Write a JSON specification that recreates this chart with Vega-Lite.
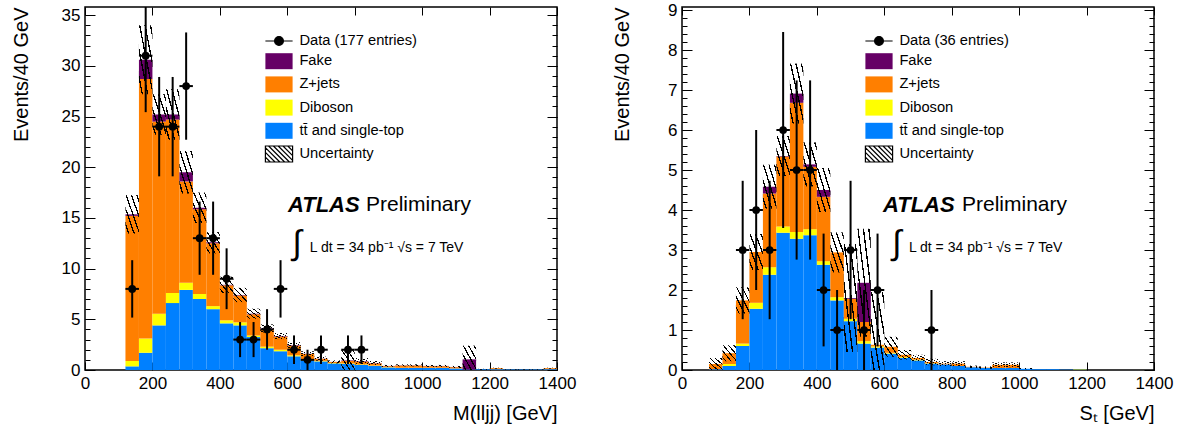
{
"$schema": "https://vega.github.io/schema/vega-lite/v6.json",
"padding": {"left": 10, "top": 0, "right": 5, "bottom": 5},
"spacing": 34,
"config": {
 "font": "Liberation Sans",
 "view": {"stroke": "black", "strokeWidth": 1.5},
 "axis": {"grid": false, "domain": false, "tickColor": "black", "tickWidth": 1, "labelColor": "black", "titleColor": "black", "labelFont": "Liberation Sans", "titleFont": "Liberation Sans", "labelFlush": false, "labelOverlap": false, "labelBound": false, "format": "d"}
},
"resolve": {"scale": {"color": "independent"}, "legend": {"color": "independent"}},
"datasets": {
 "hm": [
  {"lo":120,"hi":160,"comp":"tt\u0304 and single-top","k":1,"val":0.36},{"lo":120,"hi":160,"comp":"Diboson","k":2,"val":0.53},{"lo":120,"hi":160,"comp":"Z+jets","k":3,"val":14.31},{"lo":120,"hi":160,"comp":"Fake","k":4,"val":0.15},
  {"lo":160,"hi":200,"comp":"tt\u0304 and single-top","k":1,"val":1.7},{"lo":160,"hi":200,"comp":"Diboson","k":2,"val":1.4},{"lo":160,"hi":200,"comp":"Z+jets","k":3,"val":25.6},{"lo":160,"hi":200,"comp":"Fake","k":4,"val":1.9},
  {"lo":200,"hi":240,"comp":"tt\u0304 and single-top","k":1,"val":4.4},{"lo":200,"hi":240,"comp":"Diboson","k":2,"val":1.15},{"lo":200,"hi":240,"comp":"Z+jets","k":3,"val":18.95},{"lo":200,"hi":240,"comp":"Fake","k":4,"val":0.7},
  {"lo":240,"hi":280,"comp":"tt\u0304 and single-top","k":1,"val":6.6},{"lo":240,"hi":280,"comp":"Diboson","k":2,"val":1.0},{"lo":240,"hi":280,"comp":"Z+jets","k":3,"val":17.1},{"lo":240,"hi":280,"comp":"Fake","k":4,"val":0.5},
  {"lo":280,"hi":320,"comp":"tt\u0304 and single-top","k":1,"val":7.9},{"lo":280,"hi":320,"comp":"Diboson","k":2,"val":0.7},{"lo":280,"hi":320,"comp":"Z+jets","k":3,"val":10.0},{"lo":280,"hi":320,"comp":"Fake","k":4,"val":0.9},
  {"lo":320,"hi":360,"comp":"tt\u0304 and single-top","k":1,"val":7.0},{"lo":320,"hi":360,"comp":"Diboson","k":2,"val":0.5},{"lo":320,"hi":360,"comp":"Z+jets","k":3,"val":8.35},{"lo":320,"hi":360,"comp":"Fake","k":4,"val":0.15},
  {"lo":360,"hi":400,"comp":"tt\u0304 and single-top","k":1,"val":6.0},{"lo":360,"hi":400,"comp":"Diboson","k":2,"val":0.3},{"lo":360,"hi":400,"comp":"Z+jets","k":3,"val":6.2},{"lo":360,"hi":400,"comp":"Fake","k":4,"val":0.1},
  {"lo":400,"hi":440,"comp":"tt\u0304 and single-top","k":1,"val":4.6},{"lo":400,"hi":440,"comp":"Diboson","k":2,"val":0.3},{"lo":400,"hi":440,"comp":"Z+jets","k":3,"val":3.45},{"lo":400,"hi":440,"comp":"Fake","k":4,"val":0.05},
  {"lo":440,"hi":480,"comp":"tt\u0304 and single-top","k":1,"val":4.4},{"lo":440,"hi":480,"comp":"Diboson","k":2,"val":0.3},{"lo":440,"hi":480,"comp":"Z+jets","k":3,"val":2.65},{"lo":440,"hi":480,"comp":"Fake","k":4,"val":0.05},
  {"lo":480,"hi":520,"comp":"tt\u0304 and single-top","k":1,"val":3.25},{"lo":480,"hi":520,"comp":"Diboson","k":2,"val":0.15},{"lo":480,"hi":520,"comp":"Z+jets","k":3,"val":2.1},{"lo":480,"hi":520,"comp":"Fake","k":4,"val":0.05},
  {"lo":520,"hi":560,"comp":"tt\u0304 and single-top","k":1,"val":2.15},{"lo":520,"hi":560,"comp":"Diboson","k":2,"val":0.15},{"lo":520,"hi":560,"comp":"Z+jets","k":3,"val":1.75},{"lo":520,"hi":560,"comp":"Fake","k":4,"val":0.05},
  {"lo":560,"hi":600,"comp":"tt\u0304 and single-top","k":1,"val":1.85},{"lo":560,"hi":600,"comp":"Diboson","k":2,"val":0.15},{"lo":560,"hi":600,"comp":"Z+jets","k":3,"val":1.3},{"lo":560,"hi":600,"comp":"Fake","k":4,"val":0.05},
  {"lo":600,"hi":640,"comp":"tt\u0304 and single-top","k":1,"val":1.35},{"lo":600,"hi":640,"comp":"Diboson","k":2,"val":0.1},{"lo":600,"hi":640,"comp":"Z+jets","k":3,"val":0.95},{"lo":600,"hi":640,"comp":"Fake","k":4,"val":0.05},
  {"lo":640,"hi":680,"comp":"tt\u0304 and single-top","k":1,"val":0.95},{"lo":640,"hi":680,"comp":"Diboson","k":2,"val":0.08},{"lo":640,"hi":680,"comp":"Z+jets","k":3,"val":0.55},{"lo":640,"hi":680,"comp":"Fake","k":4,"val":0.02},
  {"lo":680,"hi":720,"comp":"tt\u0304 and single-top","k":1,"val":0.85},{"lo":680,"hi":720,"comp":"Diboson","k":2,"val":0.05},{"lo":680,"hi":720,"comp":"Z+jets","k":3,"val":0.2},{"lo":680,"hi":720,"comp":"Fake","k":4,"val":0.02},
  {"lo":720,"hi":760,"comp":"tt\u0304 and single-top","k":1,"val":0.65},{"lo":720,"hi":760,"comp":"Diboson","k":2,"val":0.04},{"lo":720,"hi":760,"comp":"Z+jets","k":3,"val":0.1},{"lo":720,"hi":760,"comp":"Fake","k":4,"val":0.01},
  {"lo":760,"hi":800,"comp":"tt\u0304 and single-top","k":1,"val":0.6},{"lo":760,"hi":800,"comp":"Diboson","k":2,"val":0.05},{"lo":760,"hi":800,"comp":"Z+jets","k":3,"val":0.25},{"lo":760,"hi":800,"comp":"Fake","k":4,"val":0.05},
  {"lo":800,"hi":840,"comp":"tt\u0304 and single-top","k":1,"val":0.5},{"lo":800,"hi":840,"comp":"Diboson","k":2,"val":0.05},{"lo":800,"hi":840,"comp":"Z+jets","k":3,"val":0.28},{"lo":800,"hi":840,"comp":"Fake","k":4,"val":0.05},
  {"lo":840,"hi":880,"comp":"tt\u0304 and single-top","k":1,"val":0.4},{"lo":840,"hi":880,"comp":"Diboson","k":2,"val":0.04},{"lo":840,"hi":880,"comp":"Z+jets","k":3,"val":0.22},{"lo":840,"hi":880,"comp":"Fake","k":4,"val":0.03},
  {"lo":880,"hi":920,"comp":"tt\u0304 and single-top","k":1,"val":0.25},{"lo":880,"hi":920,"comp":"Diboson","k":2,"val":0.03},{"lo":880,"hi":920,"comp":"Z+jets","k":3,"val":0.1},{"lo":880,"hi":920,"comp":"Fake","k":4,"val":0.02},
  {"lo":920,"hi":960,"comp":"tt\u0304 and single-top","k":1,"val":0.2},{"lo":920,"hi":960,"comp":"Diboson","k":2,"val":0.02},{"lo":920,"hi":960,"comp":"Z+jets","k":3,"val":0.22},{"lo":920,"hi":960,"comp":"Fake","k":4,"val":0.02},
  {"lo":960,"hi":1000,"comp":"tt\u0304 and single-top","k":1,"val":0.2},{"lo":960,"hi":1000,"comp":"Diboson","k":2,"val":0.02},{"lo":960,"hi":1000,"comp":"Z+jets","k":3,"val":0.22},{"lo":960,"hi":1000,"comp":"Fake","k":4,"val":0.02},
  {"lo":1000,"hi":1040,"comp":"tt\u0304 and single-top","k":1,"val":0.2},{"lo":1000,"hi":1040,"comp":"Diboson","k":2,"val":0.02},{"lo":1000,"hi":1040,"comp":"Z+jets","k":3,"val":0.16},{"lo":1000,"hi":1040,"comp":"Fake","k":4,"val":0.02},
  {"lo":1040,"hi":1080,"comp":"tt\u0304 and single-top","k":1,"val":0.2},{"lo":1040,"hi":1080,"comp":"Diboson","k":2,"val":0.02},{"lo":1040,"hi":1080,"comp":"Z+jets","k":3,"val":0.16},{"lo":1040,"hi":1080,"comp":"Fake","k":4,"val":0.02},
  {"lo":1080,"hi":1120,"comp":"tt\u0304 and single-top","k":1,"val":0.15},{"lo":1080,"hi":1120,"comp":"Diboson","k":2,"val":0.01},{"lo":1080,"hi":1120,"comp":"Z+jets","k":3,"val":0.12},{"lo":1080,"hi":1120,"comp":"Fake","k":4,"val":0.02},
  {"lo":1120,"hi":1160,"comp":"tt\u0304 and single-top","k":1,"val":0.05},{"lo":1120,"hi":1160,"comp":"Fake","k":4,"val":1.0},
  {"lo":1160,"hi":1200,"comp":"tt\u0304 and single-top","k":1,"val":0.07},
  {"lo":1200,"hi":1240,"comp":"tt\u0304 and single-top","k":1,"val":0.08},{"lo":1200,"hi":1240,"comp":"Z+jets","k":3,"val":0.1},
  {"lo":1240,"hi":1280,"comp":"tt\u0304 and single-top","k":1,"val":0.05},
  {"lo":1280,"hi":1320,"comp":"tt\u0304 and single-top","k":1,"val":0.05},
  {"lo":1320,"hi":1360,"comp":"tt\u0304 and single-top","k":1,"val":0.05},
  {"lo":1360,"hi":1400,"comp":"tt\u0304 and single-top","k":1,"val":0.08},{"lo":1360,"hi":1400,"comp":"Z+jets","k":3,"val":0.1}
 ],
 "um": [
  {"lo":120,"hi":160,"dn":13.45,"up":17.25},{"lo":160,"hi":200,"dn":27.2,"up":34.0},{"lo":200,"hi":240,"dn":23.2,"up":27.2},{"lo":240,"hi":280,"dn":22.7,"up":27.7},
  {"lo":280,"hi":320,"dn":17.4,"up":21.6},{"lo":320,"hi":360,"dn":14.5,"up":17.5},{"lo":360,"hi":400,"dn":11.5,"up":13.6},{"lo":400,"hi":440,"dn":7.6,"up":9.2},
  {"lo":440,"hi":480,"dn":6.7,"up":8.1},{"lo":480,"hi":520,"dn":5.05,"up":6.05},{"lo":520,"hi":560,"dn":3.7,"up":4.5},{"lo":560,"hi":600,"dn":3.05,"up":3.65},
  {"lo":600,"hi":640,"dn":2.15,"up":2.75},{"lo":640,"hi":680,"dn":1.35,"up":1.85},{"lo":680,"hi":720,"dn":0.92,"up":1.32},{"lo":720,"hi":760,"dn":0.65,"up":0.95},
  {"lo":760,"hi":800,"dn":0,"up":1.95},{"lo":800,"hi":840,"dn":0.58,"up":1.18},{"lo":840,"hi":880,"dn":0.49,"up":0.89},{"lo":880,"hi":920,"dn":0.3,"up":0.5},
  {"lo":920,"hi":960,"dn":0.36,"up":0.56},{"lo":960,"hi":1000,"dn":0.36,"up":0.56},{"lo":1000,"hi":1040,"dn":0.3,"up":0.5},{"lo":1040,"hi":1080,"dn":0.3,"up":0.5},
  {"lo":1080,"hi":1120,"dn":0.2,"up":0.4},{"lo":1120,"hi":1160,"dn":0,"up":2.4},{"lo":1160,"hi":1200,"dn":0.02,"up":0.12},{"lo":1200,"hi":1240,"dn":0.13,"up":0.23},
  {"lo":1240,"hi":1280,"dn":0.02,"up":0.08},{"lo":1280,"hi":1320,"dn":0.02,"up":0.08},{"lo":1320,"hi":1360,"dn":0.02,"up":0.08},{"lo":1360,"hi":1400,"dn":0.13,"up":0.23}
 ],
 "dm": [
  {"c":140,"b0":120,"b1":160,"n":8,"lo":5.17,"hi":10.83},{"c":180,"b0":160,"b1":200,"n":31,"lo":25.43,"hi":36.57},{"c":220,"b0":200,"b1":240,"n":24,"lo":19.1,"hi":28.9},
  {"c":260,"b0":240,"b1":280,"n":24,"lo":19.1,"hi":28.9},{"c":300,"b0":280,"b1":320,"n":28,"lo":22.71,"hi":33.29},{"c":340,"b0":320,"b1":360,"n":13,"lo":9.39,"hi":16.61},
  {"c":380,"b0":360,"b1":400,"n":13,"lo":9.39,"hi":16.61},{"c":420,"b0":400,"b1":440,"n":9,"lo":6,"hi":12},{"c":460,"b0":440,"b1":480,"n":3,"lo":1.27,"hi":4.73},
  {"c":500,"b0":480,"b1":520,"n":3,"lo":1.27,"hi":4.73},{"c":540,"b0":520,"b1":560,"n":4,"lo":2,"hi":6},{"c":580,"b0":560,"b1":600,"n":8,"lo":5.17,"hi":10.83},
  {"c":620,"b0":600,"b1":640,"n":2,"lo":0.59,"hi":3.41},{"c":660,"b0":640,"b1":680,"n":1,"lo":0,"hi":2},{"c":700,"b0":680,"b1":720,"n":2,"lo":0.59,"hi":3.41},
  {"c":780,"b0":760,"b1":800,"n":2,"lo":0.59,"hi":3.41},{"c":820,"b0":800,"b1":840,"n":2,"lo":0.59,"hi":3.41}
 ],
 "hs": [
  {"lo":80,"hi":120,"comp":"tt\u0304 and single-top","k":1,"val":0.02},{"lo":80,"hi":120,"comp":"Z+jets","k":3,"val":0.13},
  {"lo":120,"hi":160,"comp":"tt\u0304 and single-top","k":1,"val":0.1},{"lo":120,"hi":160,"comp":"Diboson","k":2,"val":0.05},{"lo":120,"hi":160,"comp":"Z+jets","k":3,"val":0.27},
  {"lo":160,"hi":200,"comp":"tt\u0304 and single-top","k":1,"val":0.6},{"lo":160,"hi":200,"comp":"Diboson","k":2,"val":0.06},{"lo":160,"hi":200,"comp":"Z+jets","k":3,"val":1.08},
  {"lo":200,"hi":240,"comp":"tt\u0304 and single-top","k":1,"val":1.53},{"lo":200,"hi":240,"comp":"Diboson","k":2,"val":0.15},{"lo":200,"hi":240,"comp":"Z+jets","k":3,"val":1.27},
  {"lo":240,"hi":280,"comp":"tt\u0304 and single-top","k":1,"val":2.38},{"lo":240,"hi":280,"comp":"Diboson","k":2,"val":0.19},{"lo":240,"hi":280,"comp":"Z+jets","k":3,"val":1.84},{"lo":240,"hi":280,"comp":"Fake","k":4,"val":0.17},
  {"lo":280,"hi":320,"comp":"tt\u0304 and single-top","k":1,"val":3.43},{"lo":280,"hi":320,"comp":"Diboson","k":2,"val":0.16},{"lo":280,"hi":320,"comp":"Z+jets","k":3,"val":1.75},{"lo":280,"hi":320,"comp":"Fake","k":4,"val":0.01},
  {"lo":320,"hi":360,"comp":"tt\u0304 and single-top","k":1,"val":3.28},{"lo":320,"hi":360,"comp":"Diboson","k":2,"val":0.17},{"lo":320,"hi":360,"comp":"Z+jets","k":3,"val":3.23},{"lo":320,"hi":360,"comp":"Fake","k":4,"val":0.23},
  {"lo":360,"hi":400,"comp":"tt\u0304 and single-top","k":1,"val":3.37},{"lo":360,"hi":400,"comp":"Diboson","k":2,"val":0.15},{"lo":360,"hi":400,"comp":"Z+jets","k":3,"val":1.56},{"lo":360,"hi":400,"comp":"Fake","k":4,"val":0.06},
  {"lo":400,"hi":440,"comp":"tt\u0304 and single-top","k":1,"val":2.63},{"lo":400,"hi":440,"comp":"Diboson","k":2,"val":0.09},{"lo":400,"hi":440,"comp":"Z+jets","k":3,"val":1.61},{"lo":400,"hi":440,"comp":"Fake","k":4,"val":0.17},
  {"lo":440,"hi":480,"comp":"tt\u0304 and single-top","k":1,"val":1.74},{"lo":440,"hi":480,"comp":"Diboson","k":2,"val":0.08},{"lo":440,"hi":480,"comp":"Z+jets","k":3,"val":1.12},
  {"lo":480,"hi":520,"comp":"tt\u0304 and single-top","k":1,"val":1.22},{"lo":480,"hi":520,"comp":"Diboson","k":2,"val":0.06},{"lo":480,"hi":520,"comp":"Z+jets","k":3,"val":0.5},{"lo":480,"hi":520,"comp":"Fake","k":4,"val":0.02},
  {"lo":520,"hi":560,"comp":"tt\u0304 and single-top","k":1,"val":0.66},{"lo":520,"hi":560,"comp":"Diboson","k":2,"val":0.06},{"lo":520,"hi":560,"comp":"Z+jets","k":3,"val":0.48},{"lo":520,"hi":560,"comp":"Fake","k":4,"val":0.98},
  {"lo":560,"hi":600,"comp":"tt\u0304 and single-top","k":1,"val":0.56},{"lo":560,"hi":600,"comp":"Diboson","k":2,"val":0.03},{"lo":560,"hi":600,"comp":"Z+jets","k":3,"val":0.04},
  {"lo":600,"hi":640,"comp":"tt\u0304 and single-top","k":1,"val":0.41},{"lo":600,"hi":640,"comp":"Diboson","k":2,"val":0.02},{"lo":600,"hi":640,"comp":"Z+jets","k":3,"val":0.15},
  {"lo":640,"hi":680,"comp":"tt\u0304 and single-top","k":1,"val":0.3},{"lo":640,"hi":680,"comp":"Diboson","k":2,"val":0.02},{"lo":640,"hi":680,"comp":"Z+jets","k":3,"val":0.06},
  {"lo":680,"hi":720,"comp":"tt\u0304 and single-top","k":1,"val":0.24},{"lo":680,"hi":720,"comp":"Diboson","k":2,"val":0.02},{"lo":680,"hi":720,"comp":"Z+jets","k":3,"val":0.04},
  {"lo":720,"hi":760,"comp":"tt\u0304 and single-top","k":1,"val":0.16},{"lo":720,"hi":760,"comp":"Diboson","k":2,"val":0.01},{"lo":720,"hi":760,"comp":"Z+jets","k":3,"val":0.03},
  {"lo":760,"hi":800,"comp":"tt\u0304 and single-top","k":1,"val":0.14},{"lo":760,"hi":800,"comp":"Z+jets","k":3,"val":0.02},
  {"lo":800,"hi":840,"comp":"tt\u0304 and single-top","k":1,"val":0.1},{"lo":800,"hi":840,"comp":"Z+jets","k":3,"val":0.06},
  {"lo":840,"hi":880,"comp":"tt\u0304 and single-top","k":1,"val":0.07},{"lo":840,"hi":880,"comp":"Z+jets","k":3,"val":0.01},
  {"lo":880,"hi":920,"comp":"tt\u0304 and single-top","k":1,"val":0.05},{"lo":880,"hi":920,"comp":"Z+jets","k":3,"val":0.01},
  {"lo":920,"hi":960,"comp":"tt\u0304 and single-top","k":1,"val":0.05},{"lo":920,"hi":960,"comp":"Z+jets","k":3,"val":0.08},
  {"lo":960,"hi":1000,"comp":"tt\u0304 and single-top","k":1,"val":0.05},{"lo":960,"hi":1000,"comp":"Z+jets","k":3,"val":0.08},
  {"lo":1000,"hi":1040,"comp":"tt\u0304 and single-top","k":1,"val":0.03},
  {"lo":1040,"hi":1080,"comp":"tt\u0304 and single-top","k":1,"val":0.02},
  {"lo":1080,"hi":1120,"comp":"tt\u0304 and single-top","k":1,"val":0.02},
  {"lo":1120,"hi":1160,"comp":"tt\u0304 and single-top","k":1,"val":0.01},
  {"lo":1160,"hi":1200,"comp":"tt\u0304 and single-top","k":1,"val":0.01},{"lo":1160,"hi":1200,"comp":"Diboson","k":2,"val":0.01}
 ],
 "us": [
  {"lo":80,"hi":120,"dn":0,"up":0.3},{"lo":120,"hi":160,"dn":0.22,"up":0.62},{"lo":160,"hi":200,"dn":1.41,"up":2.07},{"lo":200,"hi":240,"dn":2.5,"up":3.4},
  {"lo":240,"hi":280,"dn":4.03,"up":5.13},{"lo":280,"hi":320,"dn":4.85,"up":5.85},{"lo":320,"hi":360,"dn":6.16,"up":7.66},{"lo":360,"hi":400,"dn":4.59,"up":5.69},
  {"lo":400,"hi":440,"dn":3.95,"up":5.05},{"lo":440,"hi":480,"dn":2.44,"up":3.44},{"lo":480,"hi":520,"dn":0.45,"up":3.15},{"lo":520,"hi":560,"dn":0.83,"up":3.53},
  {"lo":560,"hi":600,"dn":0,"up":1.95},{"lo":600,"hi":640,"dn":0.33,"up":0.83},{"lo":640,"hi":680,"dn":0.26,"up":0.5},{"lo":680,"hi":720,"dn":0.22,"up":0.38},
  {"lo":720,"hi":760,"dn":0.12,"up":0.28},{"lo":760,"hi":800,"dn":0.1,"up":0.22},{"lo":800,"hi":840,"dn":0.1,"up":0.22},{"lo":840,"hi":880,"dn":0.05,"up":0.11},
  {"lo":880,"hi":920,"dn":0.03,"up":0.09},{"lo":920,"hi":960,"dn":0.07,"up":0.19},{"lo":960,"hi":1000,"dn":0.07,"up":0.19},{"lo":1000,"hi":1040,"dn":0.02,"up":0.05}
 ],
 "ds": [
  {"c":180,"b0":160,"b1":200,"n":3,"lo":1.27,"hi":4.73},{"c":220,"b0":200,"b1":240,"n":4,"lo":2,"hi":6},{"c":260,"b0":240,"b1":280,"n":3,"lo":1.27,"hi":4.73},
  {"c":300,"b0":280,"b1":320,"n":6,"lo":3.55,"hi":8.45},{"c":340,"b0":320,"b1":360,"n":5,"lo":2.76,"hi":7.24},{"c":380,"b0":360,"b1":400,"n":5,"lo":2.76,"hi":7.24},
  {"c":420,"b0":400,"b1":440,"n":2,"lo":0.59,"hi":3.41},{"c":460,"b0":440,"b1":480,"n":1,"lo":0,"hi":2},{"c":500,"b0":480,"b1":520,"n":3,"lo":1.27,"hi":4.73},
  {"c":540,"b0":520,"b1":560,"n":1,"lo":0,"hi":2},{"c":580,"b0":560,"b1":600,"n":2,"lo":0.59,"hi":3.41},{"c":740,"b0":720,"b1":760,"n":1,"lo":0,"hi":2}
 ]
},
"hconcat": [
 {
  "width": 472, "height": 363,
  "resolve": {"axis": {"x": "independent", "y": "independent"}},
  "layer": [
   {"data": {"name": "hm"},
    "transform": [{"stack": "val", "groupby": ["lo"], "sort": [{"field": "k", "order": "ascending"}], "as": ["y0", "y1"]}],
    "mark": {"type": "rect", "opacity": 1},
    "encoding": {
     "x": {"field": "lo", "type": "quantitative", "scale": {"domain": [0, 1400], "nice": false, "zero": false},
       "axis": {"orient": "bottom", "values": [0,200,400,600,800,1000,1200,1400], "tickSize": -8, "labelPadding": 13, "labelFontSize": 17, "title": "M(lljj) [GeV]", "titleAnchor": "end", "titleFontSize": 20, "titleFontWeight": "normal", "titlePadding": 12}},
     "x2": {"field": "hi"},
     "y": {"field": "y0", "type": "quantitative", "scale": {"domain": [0, 35.8], "nice": false},
       "axis": {"orient": "left", "values": [0,5,10,15,20,25,30,35], "tickSize": -10, "labelPadding": 15, "labelFontSize": 17, "title": "Events/40 GeV", "titleAnchor": "end", "titleFontSize": 20, "titleFontWeight": "normal", "titlePadding": 30}},
     "y2": {"field": "y1"},
     "color": {"field": "comp", "type": "nominal",
       "scale": {"domain": ["Data (177 entries)", "Fake", "Z+jets", "Diboson", "tt\u0304 and single-top", "Uncertainty"],
         "range": ["#000000", "#660066", "#ff7f00", "#ffff00", "#0080ff", "#ffffff"]},
       "legend": {"orient": "none", "legendX": 185, "legendY": 25, "title": null, "padding": 0,
         "symbolType": "M-1.7,-1H1.7V1H-1.7Z", "symbolSize": 256, "symbolStrokeWidth": 1.2, "symbolOpacity": 1,
         "labelFontSize": 14.7, "labelFont": "Liberation Sans", "labelColor": "black", "labelOffset": 11.4, "labelLimit": 300, "rowPadding": 1.2,
         "encode": {"symbols": {"update": {
           "shape": [
             {"test": "datum.value === 'Data (177 entries)'", "value": "M-1.7,0H1.7M0,-0.6V0.6M0.55,0A0.55,0.55,0,1,1,-0.55,0A0.55,0.55,0,1,1,0.55,0Z"},
             {"test": "datum.value === 'Uncertainty'", "value": "M-1.7,-1H1.7V1H-1.7Z M-1.7,0.4L-1.1,1 M-1.7,-0.2L-0.5,1 M-1.7,-0.8L0.1,1 M-1.3,-1L0.7,1 M-0.7,-1L1.3,1 M-0.1,-1L1.7,0.8 M0.5,-1L1.7,0.2 M1.1,-1L1.7,-0.4"},
             {"value": "M-1.7,-1H1.7V1H-1.7Z"}],
           "stroke": [{"test": "datum.value === 'Data (177 entries)' || datum.value === 'Uncertainty'", "value": "#000000"}, {"value": "transparent"}]}}}}}
    }},
   {"data": {"name": "um"}, "mark": {"type": "rect", "opacity": 1, "strokeWidth": 0,
      "fill": {"gradient": "linear", "x1": 0, "y1": 1, "x2": 1, "y2": 0, "stops": [
        {"offset": 0, "color": "rgba(0,0,0,0)"},
        {"offset": 0.1, "color": "rgba(0,0,0,0)"}, {"offset": 0.1, "color": "#000000"}, {"offset": 0.15, "color": "#000000"}, {"offset": 0.15, "color": "rgba(0,0,0,0)"},
        {"offset": 0.3, "color": "rgba(0,0,0,0)"}, {"offset": 0.3, "color": "#000000"}, {"offset": 0.35, "color": "#000000"}, {"offset": 0.35, "color": "rgba(0,0,0,0)"},
        {"offset": 0.5, "color": "rgba(0,0,0,0)"}, {"offset": 0.5, "color": "#000000"}, {"offset": 0.55, "color": "#000000"}, {"offset": 0.55, "color": "rgba(0,0,0,0)"},
        {"offset": 0.7, "color": "rgba(0,0,0,0)"}, {"offset": 0.7, "color": "#000000"}, {"offset": 0.75, "color": "#000000"}, {"offset": 0.75, "color": "rgba(0,0,0,0)"},
        {"offset": 0.9, "color": "rgba(0,0,0,0)"}, {"offset": 0.9, "color": "#000000"}, {"offset": 0.95, "color": "#000000"}, {"offset": 0.95, "color": "rgba(0,0,0,0)"},
        {"offset": 1, "color": "rgba(0,0,0,0)"}]}},
    "encoding": {
     "x": {"field": "lo", "type": "quantitative", "axis": {"orient": "top", "values": [0,200,400,600,800,1000,1200,1400], "tickSize": -8, "labels": false, "title": null}},
     "x2": {"field": "hi"},
     "y": {"field": "dn", "type": "quantitative", "axis": {"orient": "right", "values": [0,5,10,15,20,25,30,35], "tickSize": -10, "labels": false, "title": null}},
     "y2": {"field": "up"}
    }},
   {"data": {"name": "dm"}, "mark": {"type": "rule", "strokeWidth": 2, "clip": true, "color": "#000000"},
    "encoding": {
     "x": {"field": "c", "type": "quantitative", "axis": null},
     "y": {"field": "lo", "type": "quantitative", "axis": {"orient": "left", "values": [0,1,2,3,4,5,6,7,8,9,10,11,12,13,14,15,16,17,18,19,20,21,22,23,24,25,26,27,28,29,30,31,32,33,34,35], "tickSize": -5, "labels": false, "title": null}},
     "y2": {"field": "hi"}
    }},
   {"data": {"name": "dm"}, "mark": {"type": "rule", "strokeWidth": 2, "color": "#000000"},
    "encoding": {
     "x": {"field": "b0", "type": "quantitative", "axis": null},
     "x2": {"field": "b1"},
     "y": {"field": "n", "type": "quantitative", "axis": {"orient": "right", "values": [0,1,2,3,4,5,6,7,8,9,10,11,12,13,14,15,16,17,18,19,20,21,22,23,24,25,26,27,28,29,30,31,32,33,34,35], "tickSize": -5, "labels": false, "title": null}}
    }},
   {"data": {"name": "dm"}, "mark": {"type": "circle", "size": 60, "opacity": 1},
    "encoding": {
     "x": {"field": "c", "type": "quantitative", "axis": null},
     "y": {"field": "n", "type": "quantitative", "axis": null},
     "color": {"datum": "Data (177 entries)"}
    }},
   {"data": {"values": [{"t": "ATLAS"}]}, "mark": {"type": "text", "align": "left", "baseline": "middle", "fontSize": 22, "fontWeight": "bold", "fontStyle": "italic", "fill": "black"},
    "encoding": {"x": {"datum": 602, "type": "quantitative", "axis": null}, "y": {"datum": 16.27, "type": "quantitative", "axis": null}, "text": {"field": "t"}}},
   {"data": {"values": [{"t": "Preliminary"}]}, "mark": {"type": "text", "align": "left", "baseline": "middle", "fontSize": 21, "fill": "black"},
    "encoding": {"x": {"datum": 833.5, "type": "quantitative", "axis": null}, "y": {"datum": 16.27, "type": "quantitative", "axis": null}, "text": {"field": "t"}}},
   {"data": {"values": [{"t": "\u222b"}]}, "mark": {"type": "text", "align": "center", "baseline": "middle", "fontSize": 34, "fill": "black"},
    "encoding": {"x": {"datum": 629, "type": "quantitative", "axis": null}, "y": {"datum": 12.43, "type": "quantitative", "axis": null}, "text": {"field": "t"}}},
   {"data": {"values": [{"t": "L dt = 34 pb\u207b\u00b9  \u221as = 7 TeV"}]}, "mark": {"type": "text", "align": "left", "baseline": "middle", "fontSize": 14, "fill": "black"},
    "encoding": {"x": {"datum": 667, "type": "quantitative", "axis": null}, "y": {"datum": 12.03, "type": "quantitative", "axis": null}, "text": {"field": "t"}}}
  ]
 },
 {
  "width": 472, "height": 363,
  "resolve": {"axis": {"x": "independent", "y": "independent"}},
  "layer": [
   {"data": {"name": "hs"},
    "transform": [{"stack": "val", "groupby": ["lo"], "sort": [{"field": "k", "order": "ascending"}], "as": ["y0", "y1"]}],
    "mark": {"type": "rect", "opacity": 1},
    "encoding": {
     "x": {"field": "lo", "type": "quantitative", "scale": {"domain": [0, 1400], "nice": false, "zero": false},
       "axis": {"orient": "bottom", "values": [0,200,400,600,800,1000,1200,1400], "tickSize": -8, "labelPadding": 13, "labelFontSize": 17, "title": "S\u209c [GeV]", "titleAnchor": "end", "titleFontSize": 20, "titleFontWeight": "normal", "titlePadding": 12}},
     "x2": {"field": "hi"},
     "y": {"field": "y0", "type": "quantitative", "scale": {"domain": [0, 9.075], "nice": false},
       "axis": {"orient": "left", "values": [0,1,2,3,4,5,6,7,8,9], "tickSize": -10, "labelPadding": 15, "labelFontSize": 17, "title": "Events/40 GeV", "titleAnchor": "end", "titleFontSize": 20, "titleFontWeight": "normal", "titlePadding": 35}},
     "y2": {"field": "y1"},
     "color": {"field": "comp", "type": "nominal",
       "scale": {"domain": ["Data (36 entries)", "Fake", "Z+jets", "Diboson", "tt\u0304 and single-top", "Uncertainty"],
         "range": ["#000000", "#660066", "#ff7f00", "#ffff00", "#0080ff", "#ffffff"]},
       "legend": {"orient": "none", "legendX": 188, "legendY": 25, "title": null, "padding": 0,
         "symbolType": "M-1.7,-1H1.7V1H-1.7Z", "symbolSize": 256, "symbolStrokeWidth": 1.2, "symbolOpacity": 1,
         "labelFontSize": 14.7, "labelFont": "Liberation Sans", "labelColor": "black", "labelOffset": 11.4, "labelLimit": 300, "rowPadding": 1.2,
         "encode": {"symbols": {"update": {
           "shape": [
             {"test": "datum.value === 'Data (36 entries)'", "value": "M-1.7,0H1.7M0,-0.6V0.6M0.55,0A0.55,0.55,0,1,1,-0.55,0A0.55,0.55,0,1,1,0.55,0Z"},
             {"test": "datum.value === 'Uncertainty'", "value": "M-1.7,-1H1.7V1H-1.7Z M-1.7,0.4L-1.1,1 M-1.7,-0.2L-0.5,1 M-1.7,-0.8L0.1,1 M-1.3,-1L0.7,1 M-0.7,-1L1.3,1 M-0.1,-1L1.7,0.8 M0.5,-1L1.7,0.2 M1.1,-1L1.7,-0.4"},
             {"value": "M-1.7,-1H1.7V1H-1.7Z"}],
           "stroke": [{"test": "datum.value === 'Data (36 entries)' || datum.value === 'Uncertainty'", "value": "#000000"}, {"value": "transparent"}]}}}}}
    }},
   {"data": {"name": "us"}, "mark": {"type": "rect", "opacity": 1, "strokeWidth": 0,
      "fill": {"gradient": "linear", "x1": 0, "y1": 1, "x2": 1, "y2": 0, "stops": [
        {"offset": 0, "color": "rgba(0,0,0,0)"},
        {"offset": 0.1, "color": "rgba(0,0,0,0)"}, {"offset": 0.1, "color": "#000000"}, {"offset": 0.15, "color": "#000000"}, {"offset": 0.15, "color": "rgba(0,0,0,0)"},
        {"offset": 0.3, "color": "rgba(0,0,0,0)"}, {"offset": 0.3, "color": "#000000"}, {"offset": 0.35, "color": "#000000"}, {"offset": 0.35, "color": "rgba(0,0,0,0)"},
        {"offset": 0.5, "color": "rgba(0,0,0,0)"}, {"offset": 0.5, "color": "#000000"}, {"offset": 0.55, "color": "#000000"}, {"offset": 0.55, "color": "rgba(0,0,0,0)"},
        {"offset": 0.7, "color": "rgba(0,0,0,0)"}, {"offset": 0.7, "color": "#000000"}, {"offset": 0.75, "color": "#000000"}, {"offset": 0.75, "color": "rgba(0,0,0,0)"},
        {"offset": 0.9, "color": "rgba(0,0,0,0)"}, {"offset": 0.9, "color": "#000000"}, {"offset": 0.95, "color": "#000000"}, {"offset": 0.95, "color": "rgba(0,0,0,0)"},
        {"offset": 1, "color": "rgba(0,0,0,0)"}]}},
    "encoding": {
     "x": {"field": "lo", "type": "quantitative", "axis": {"orient": "top", "values": [0,200,400,600,800,1000,1200,1400], "tickSize": -8, "labels": false, "title": null}},
     "x2": {"field": "hi"},
     "y": {"field": "dn", "type": "quantitative", "axis": {"orient": "right", "values": [0,1,2,3,4,5,6,7,8,9], "tickSize": -10, "labels": false, "title": null}},
     "y2": {"field": "up"}
    }},
   {"data": {"name": "ds"}, "mark": {"type": "rule", "strokeWidth": 2, "clip": true, "color": "#000000"},
    "encoding": {
     "x": {"field": "c", "type": "quantitative", "axis": null},
     "y": {"field": "lo", "type": "quantitative", "axis": {"orient": "left", "values": [0,0.2,0.4,0.6,0.8,1,1.2,1.4,1.6,1.8,2,2.2,2.4,2.6,2.8,3,3.2,3.4,3.6,3.8,4,4.2,4.4,4.6,4.8,5,5.2,5.4,5.6,5.8,6,6.2,6.4,6.6,6.8,7,7.2,7.4,7.6,7.8,8,8.2,8.4,8.6,8.8,9], "tickSize": -5, "labels": false, "title": null}},
     "y2": {"field": "hi"}
    }},
   {"data": {"name": "ds"}, "mark": {"type": "rule", "strokeWidth": 2, "color": "#000000"},
    "encoding": {
     "x": {"field": "b0", "type": "quantitative", "axis": null},
     "x2": {"field": "b1"},
     "y": {"field": "n", "type": "quantitative", "axis": {"orient": "right", "values": [0,0.2,0.4,0.6,0.8,1,1.2,1.4,1.6,1.8,2,2.2,2.4,2.6,2.8,3,3.2,3.4,3.6,3.8,4,4.2,4.4,4.6,4.8,5,5.2,5.4,5.6,5.8,6,6.2,6.4,6.6,6.8,7,7.2,7.4,7.6,7.8,8,8.2,8.4,8.6,8.8,9], "tickSize": -5, "labels": false, "title": null}}
    }},
   {"data": {"name": "ds"}, "mark": {"type": "circle", "size": 60, "opacity": 1},
    "encoding": {
     "x": {"field": "c", "type": "quantitative", "axis": null},
     "y": {"field": "n", "type": "quantitative", "axis": null},
     "color": {"datum": "Data (36 entries)"}
    }},
   {"data": {"values": [{"t": "ATLAS"}]}, "mark": {"type": "text", "align": "left", "baseline": "middle", "fontSize": 22, "fontWeight": "bold", "fontStyle": "italic", "fill": "black"},
    "encoding": {"x": {"datum": 596, "type": "quantitative", "axis": null}, "y": {"datum": 4.125, "type": "quantitative", "axis": null}, "text": {"field": "t"}}},
   {"data": {"values": [{"t": "Preliminary"}]}, "mark": {"type": "text", "align": "left", "baseline": "middle", "fontSize": 21, "fill": "black"},
    "encoding": {"x": {"datum": 830.5, "type": "quantitative", "axis": null}, "y": {"datum": 4.125, "type": "quantitative", "axis": null}, "text": {"field": "t"}}},
   {"data": {"values": [{"t": "\u222b"}]}, "mark": {"type": "text", "align": "center", "baseline": "middle", "fontSize": 34, "fill": "black"},
    "encoding": {"x": {"datum": 637.7, "type": "quantitative", "axis": null}, "y": {"datum": 3.15, "type": "quantitative", "axis": null}, "text": {"field": "t"}}},
   {"data": {"values": [{"t": "L dt = 34 pb\u207b\u00b9  \u221as = 7 TeV"}]}, "mark": {"type": "text", "align": "left", "baseline": "middle", "fontSize": 14, "fill": "black"},
    "encoding": {"x": {"datum": 673, "type": "quantitative", "axis": null}, "y": {"datum": 3.05, "type": "quantitative", "axis": null}, "text": {"field": "t"}}}
  ]
 }
]
}
